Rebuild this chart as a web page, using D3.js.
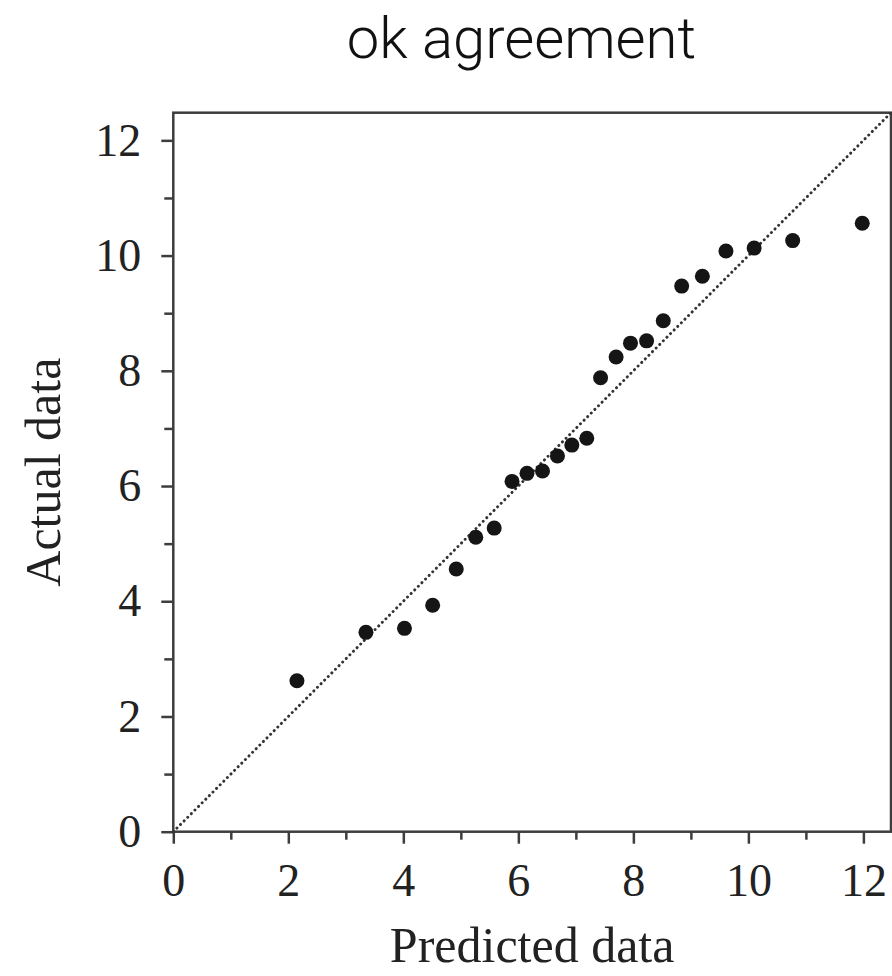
<!DOCTYPE html>
<html>
<head>
<meta charset="utf-8">
<script src="https://cdn.jsdelivr.net/npm/d3@7"></script>
<style>
    body { margin: 0; background: #fff; }
    svg { display: block; }
</style>
</head>
<body>
<svg id="viz"></svg>
<script>
// values
var predicted = [2.15, 3.35, 4.02, 4.51, 4.92, 5.26, 5.58, 5.89, 6.15, 6.42, 6.68, 6.93,
                 7.19, 7.43, 7.70, 7.95, 8.23, 8.52, 8.84, 9.20, 9.61, 10.10, 10.77, 11.98];
var actual    = [2.62, 3.46, 3.53, 3.93, 4.56, 5.11, 5.27, 6.08, 6.22, 6.26, 6.52, 6.71,
                 6.83, 7.88, 8.24, 8.48, 8.52, 8.87, 9.47, 9.64, 10.08, 10.13, 10.26, 10.56];
var majorTicks = [0, 2, 4, 6, 8, 10, 12];
var minorTicks = [1, 3, 5, 7, 9, 11];
var axisMax = 12.48;

var width = 892;
var height = 976;
var margin = ({top: 112.7, right: 1, bottom: 144.3, left: 173.3});

var data = predicted.map((p, i) => ({x: p, y: actual[i]}));

var x = d3.scaleLinear()
    .domain([0, axisMax])
    .range([margin.left, width - margin.right]);

var y = d3.scaleLinear()
    .domain([0, axisMax])
    .range([height - margin.bottom, margin.top]);

var svg = d3.select("#viz")
    .attr("width", width)
    .attr("height", height);

var serif = "'Liberation Serif', 'Times New Roman', serif";
var axisColor = "#3d3d3d";

// title
svg.append("text")
    .attr("x", 521.5)
    .attr("y", 58)
    .attr("text-anchor", "middle")
    .style("font-family", "Roboto, 'Liberation Sans', sans-serif")
    .style("font-weight", 300)
    .style("font-size", "58px")
    .attr("fill", "#111")
    .text("ok agreement");

// minor ticks first, then major ticks with labels
var xMinor = g => g
    .attr("transform", `translate(0,${y(0)})`)
    .call(d3.axisBottom(x).tickValues(minorTicks).tickSize(8).tickFormat(""))
    .call(g => g.select(".domain").remove());

var yMinor = g => g
    .attr("transform", `translate(${x(0)},0)`)
    .call(d3.axisLeft(y).tickValues(minorTicks).tickSize(9).tickFormat(""))
    .call(g => g.select(".domain").remove());

var xAxis = g => g
    .attr("transform", `translate(0,${y(0)})`)
    .call(d3.axisBottom(x).tickValues(majorTicks).tickSize(12).tickSizeOuter(0).tickPadding(20))
    .call(g => g.select(".domain").remove());

var yAxis = g => g
    .attr("transform", `translate(${x(0)},0)`)
    .call(d3.axisLeft(y).tickValues(majorTicks).tickSize(12).tickSizeOuter(0).tickPadding(20))
    .call(g => g.select(".domain").remove());

[xMinor, yMinor, xAxis, yAxis].forEach(function(ax) {
    svg.append("g").call(ax)
        .call(g => g.selectAll("line").attr("stroke", axisColor).attr("stroke-width", 2.5))
        .call(g => g.selectAll("text")
            .attr("fill", "#222")
            .style("font-family", serif)
            .style("font-size", "46px"));
});

// frame
svg.append("rect")
    .attr("x", x(0))
    .attr("y", y(axisMax))
    .attr("width", x(axisMax) - x(0))
    .attr("height", y(0) - y(axisMax))
    .attr("fill", "none")
    .attr("stroke", axisColor)
    .attr("stroke-width", 2.5);

// 1:1 line
svg.append("line")
    .attr("x1", x(0))
    .attr("y1", y(0))
    .attr("x2", x(axisMax))
    .attr("y2", y(axisMax))
    .attr("stroke", "#333")
    .attr("stroke-width", 2.9)
    .attr("stroke-linecap", "round")
    .attr("stroke-dasharray", "0.1,5");

// points
svg.append("g")
    .attr("fill", "#151515")
    .selectAll("circle")
    .data(data)
    .enter().append("circle")
    .attr("cx", d => x(d.x))
    .attr("cy", d => y(d.y))
    .attr("r", 7.5);

// axis titles
svg.append("text")
    .attr("x", (x(0) + x(axisMax)) / 2)
    .attr("y", 962)
    .attr("text-anchor", "middle")
    .style("font-family", serif)
    .style("font-size", "50px")
    .attr("fill", "#222")
    .text("Predicted data");

svg.append("text")
    .attr("transform", `translate(60,${(y(0) + y(axisMax)) / 2}) rotate(-90)`)
    .attr("text-anchor", "middle")
    .style("font-family", serif)
    .style("font-size", "50px")
    .attr("fill", "#222")
    .text("Actual data");
</script>
</body>
</html>
